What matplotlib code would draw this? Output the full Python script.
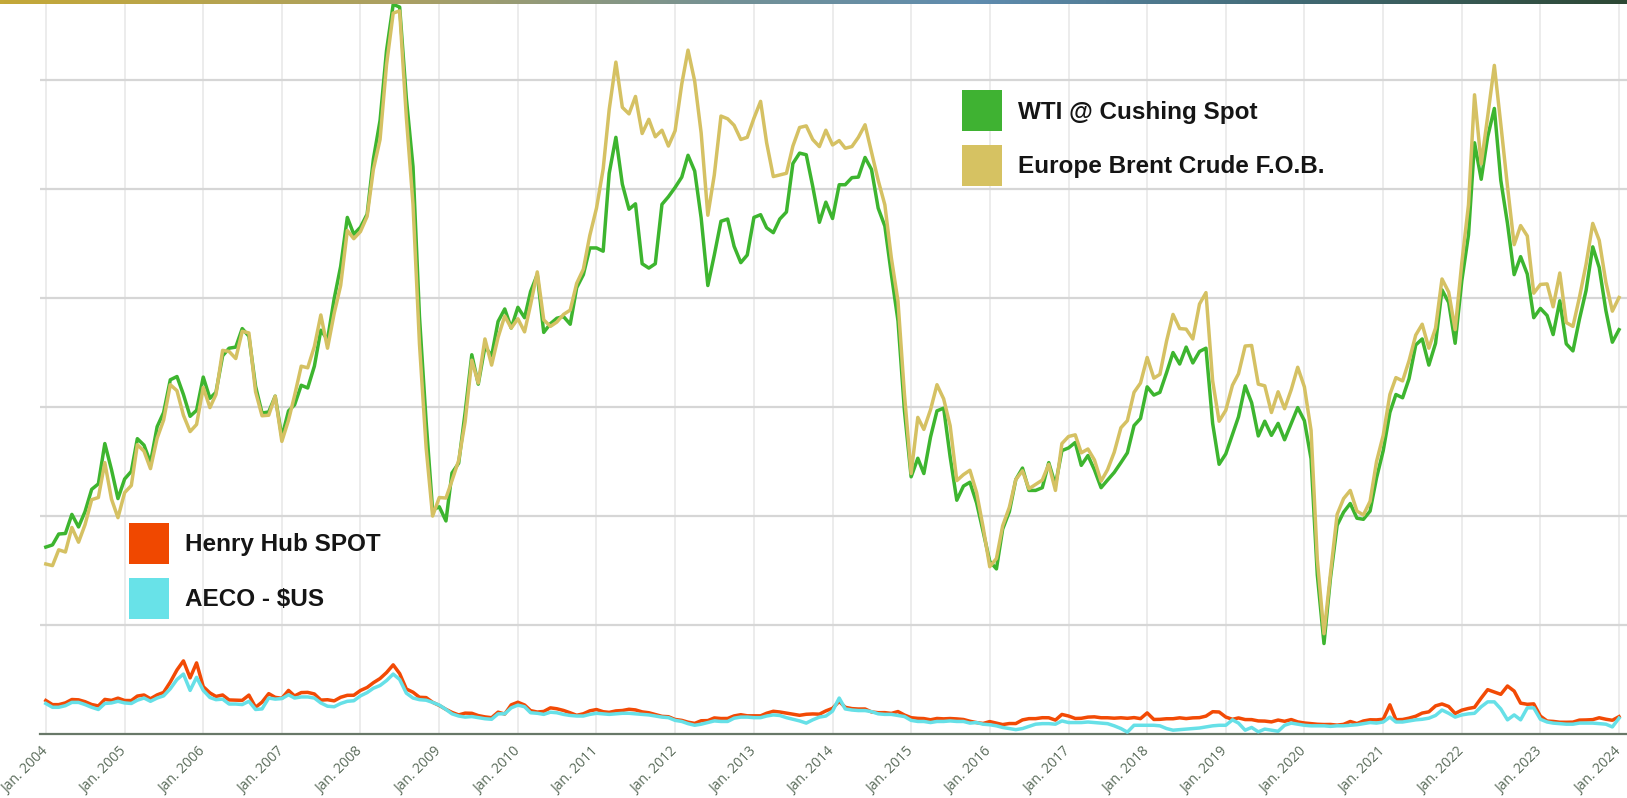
import numpy as np
import pandas as pd
import matplotlib
matplotlib.use("Agg")
import matplotlib.pyplot as plt
from matplotlib.patches import Rectangle

# ---------------- data (monthly, Jan 2004 - Jan 2024, $US) ----------------
start_month = "2004-01-01"

wti = [
    34.3, 34.7, 36.7, 36.8, 40.3, 38.0, 40.8, 44.9, 45.9, 53.3, 48.5, 43.2,
    46.8, 48.2, 54.2, 53.0, 49.8, 56.4, 59.0, 65.0, 65.6, 62.3, 58.3, 59.4,
    65.5, 61.6, 62.7, 69.4, 70.8, 71.0, 74.4, 73.0, 63.8, 58.9, 59.1, 62.0,
    54.5, 59.3, 60.4, 64.0, 63.5, 67.5, 74.1, 72.4, 79.9, 85.8, 94.8, 91.7,
    93.0, 95.4, 105.5, 112.6, 125.4, 133.9, 133.4, 116.7, 104.1, 76.6, 57.3, 41.1,
    41.7, 39.1, 47.9, 49.7, 59.0, 69.6, 64.2, 71.1, 69.4, 75.7, 78.0, 74.5,
    78.3, 76.4, 81.2, 84.3, 73.7, 75.3, 76.3, 76.6, 75.2, 81.9, 84.3, 89.2,
    89.2, 88.6, 102.9, 109.5, 100.9, 96.3, 97.3, 86.3, 85.5, 86.3, 97.2, 98.6,
    100.3, 102.2, 106.2, 103.3, 94.7, 82.3, 87.9, 94.1, 94.5, 89.5, 86.5, 87.9,
    94.8, 95.3, 92.9, 92.0, 94.5, 95.8, 104.7, 106.6, 106.3, 100.5, 93.9, 97.6,
    94.6, 100.8, 100.8, 102.1, 102.2, 105.8, 103.6, 96.5, 93.2, 84.4, 75.8, 59.3,
    47.2, 50.6, 47.8, 54.5, 59.3, 59.8, 50.9, 42.9, 45.5, 46.2, 42.4, 37.2,
    31.7, 30.3, 37.6, 40.8, 46.7, 48.8, 44.7, 44.7, 45.2, 49.8, 45.7, 52.0,
    52.5, 53.5, 49.3, 51.1, 48.5, 45.2, 46.6, 48.0, 49.8, 51.6, 56.6, 57.9,
    63.7, 62.2, 62.7, 66.3, 70.0, 67.9, 71.0, 68.1, 70.2, 70.8, 57.0, 49.5,
    51.4, 55.0, 58.2, 63.9, 60.8, 54.7, 57.4, 54.8, 57.0, 54.0, 57.0, 59.9,
    57.5, 50.5, 29.2, 16.6, 28.6, 38.3, 40.7, 42.3, 39.6, 39.4, 40.9, 47.0,
    52.0, 59.0, 62.3, 61.7, 65.2, 71.4, 72.5, 67.7, 71.7, 81.5, 79.2, 71.7,
    83.2, 91.6, 108.5, 101.8, 109.6, 114.8, 101.6, 93.7, 84.3, 87.6, 84.4, 76.4,
    78.1, 76.8, 73.3, 79.5, 71.6, 70.3, 76.1, 81.4, 89.4, 85.6, 77.7, 71.9,
    74.2,
]

brent = [
    31.2, 30.9, 33.8, 33.4, 37.9, 35.2, 38.4, 43.0, 43.4, 49.8, 43.1, 39.7,
    44.3, 45.6, 53.1, 51.9, 48.7, 54.3, 57.6, 64.1, 63.0, 58.5, 55.5, 56.8,
    63.6, 59.9, 62.3, 70.4, 70.2, 68.9, 73.9, 73.6, 62.8, 58.4, 58.5, 62.0,
    53.7, 57.6, 62.1, 67.5, 67.2, 71.1, 76.9, 70.8, 77.2, 82.3, 92.4, 90.9,
    92.2, 95.0, 103.6, 109.1, 122.8, 132.3, 132.7, 113.2, 97.2, 71.6, 52.5, 40.0,
    43.4, 43.3, 46.5, 50.2, 57.3, 68.6, 64.4, 72.5, 67.7, 72.8, 76.7, 74.5,
    76.2, 73.8, 78.8, 84.8, 76.0, 74.8, 75.6, 77.0, 77.8, 82.7, 85.3, 91.5,
    96.5, 103.7, 114.6, 123.3, 115.0, 113.8, 117.0, 110.2, 112.8, 109.6, 110.8, 107.9,
    110.7, 119.3, 125.5, 119.8, 110.3, 95.2, 102.6, 113.4, 112.9, 111.7, 109.1, 109.5,
    113.0, 116.1, 108.5, 102.3, 102.6, 102.9, 107.9, 111.3, 111.6, 109.1, 107.8, 110.8,
    108.1, 108.9, 107.5, 107.8, 109.5, 111.8, 106.8, 101.6, 97.1, 87.4, 79.4, 62.3,
    47.8, 58.1, 55.9, 59.5, 64.1, 61.5, 56.6, 46.5, 47.6, 48.4, 44.3, 38.0,
    30.7, 32.2, 38.2, 41.6, 46.7, 48.3, 45.0, 45.8, 46.6, 49.5, 44.7, 53.3,
    54.6, 54.9, 51.6, 52.3, 50.3, 46.4, 48.5, 51.7, 56.2, 57.5, 62.7, 64.4,
    69.1, 65.3, 66.0, 72.1, 77.0, 74.4, 74.3, 72.5, 78.9, 81.0, 64.8, 57.4,
    59.4, 64.0, 66.1, 71.2, 71.3, 64.2, 63.9, 59.0, 62.8, 59.7, 63.2, 67.3,
    63.7, 55.7, 32.0, 18.4, 29.4, 40.3, 43.2, 44.7, 40.9, 40.2, 42.7, 50.0,
    54.8, 62.3, 65.4, 64.8, 68.5, 73.2, 75.2, 70.8, 74.5, 83.5, 81.1, 74.2,
    86.5, 97.1, 117.3, 104.6, 113.3, 122.7, 111.9, 100.5, 89.8, 93.3, 91.4, 80.9,
    82.5, 82.6, 78.4, 84.6, 75.5, 74.8, 80.1, 86.2, 93.7, 90.6, 82.9, 77.6,
    80.1,
]

henry_hub = [
    6.15, 5.39, 5.39, 5.71, 6.33, 6.27, 5.93, 5.41, 5.15, 6.35, 6.17, 6.58,
    6.15, 6.14, 6.96, 7.16, 6.47, 7.18, 7.63, 9.53, 11.75, 13.42, 10.30, 13.05,
    8.69, 7.54, 6.89, 7.16, 6.25, 6.21, 6.17, 7.14, 4.90, 5.85, 7.41, 6.73,
    6.55, 8.00, 6.98, 7.60, 7.64, 7.35, 6.22, 6.29, 6.08, 6.74, 7.10, 7.11,
    7.99, 8.54, 9.41, 10.18, 11.27, 12.69, 11.09, 8.26, 7.67, 6.74, 6.68, 5.82,
    5.24, 4.52, 3.96, 3.50, 3.83, 3.80, 3.38, 3.14, 2.99, 4.01, 3.66, 5.35,
    5.83, 5.32, 4.29, 4.03, 4.14, 4.80, 4.63, 4.32, 3.89, 3.43, 3.71, 4.25,
    4.49, 4.09, 3.97, 4.24, 4.31, 4.54, 4.42, 4.06, 3.90, 3.57, 3.24, 3.17,
    2.67, 2.50, 2.17, 1.95, 2.43, 2.46, 2.95, 2.84, 2.85, 3.32, 3.54, 3.34,
    3.33, 3.33, 3.81, 4.17, 4.04, 3.83, 3.62, 3.43, 3.62, 3.68, 3.64, 4.24,
    4.71, 6.00, 4.90, 4.66, 4.58, 4.59, 4.05, 3.91, 3.92, 3.78, 4.12, 3.48,
    2.99, 2.87, 2.83, 2.61, 2.85, 2.78, 2.84, 2.77, 2.66, 2.34, 2.09, 1.93,
    2.28, 1.99, 1.73, 1.92, 1.92, 2.59, 2.82, 2.82, 2.99, 2.98, 2.55, 3.59,
    3.30, 2.85, 2.88, 3.10, 3.15, 2.98, 2.98, 2.90, 2.98, 2.88, 3.01, 2.82,
    3.87, 2.67, 2.69, 2.80, 2.80, 2.97, 2.83, 2.96, 3.00, 3.28, 4.09, 4.04,
    3.11, 2.69, 2.95, 2.65, 2.64, 2.40, 2.37, 2.22, 2.56, 2.33, 2.65, 2.22,
    2.02, 1.91, 1.79, 1.74, 1.75, 1.63, 1.77, 2.30, 1.92, 2.39, 2.61, 2.59,
    2.71, 5.35, 2.62, 2.66, 2.91, 3.26, 3.84, 4.07, 5.16, 5.51, 5.05, 3.76,
    4.38, 4.69, 4.90, 6.60, 8.14, 7.70, 7.28, 8.81, 7.88, 5.66, 5.45, 5.53,
    3.27, 2.38, 2.31, 2.16, 2.15, 2.18, 2.55, 2.58, 2.64, 2.98, 2.71, 2.52,
    3.18,
]

aeco_us = [
    5.6, 4.9, 4.9, 5.2, 5.8, 5.8, 5.4, 4.9, 4.5, 5.6, 5.7, 6.0,
    5.7, 5.6, 6.2, 6.6, 6.0, 6.6, 7.0, 8.3, 10.0, 11.0, 8.0, 10.4,
    8.0, 6.7, 6.3, 6.4, 5.5, 5.5, 5.4, 6.0, 4.5, 4.6, 6.6, 6.4,
    6.5, 7.2, 6.6, 6.8, 6.8, 6.6, 5.7, 5.1, 5.0, 5.6, 6.0, 6.1,
    7.0, 7.6, 8.4, 8.9, 9.8, 11.0, 10.0, 7.5, 6.6, 6.3, 6.2, 5.8,
    5.3, 4.5, 3.7, 3.3, 3.1, 3.2, 3.0, 2.8, 2.7, 3.7, 3.7, 4.8,
    5.3, 5.0, 3.9, 3.8, 3.6, 4.0, 3.9, 3.6, 3.4, 3.3, 3.3, 3.6,
    3.8, 3.7, 3.6, 3.7, 3.8, 3.8, 3.7, 3.6, 3.5, 3.3, 3.1, 3.0,
    2.5, 2.3, 1.9, 1.6, 1.8, 2.1, 2.4, 2.3, 2.3, 2.9, 3.1, 3.1,
    3.0, 3.0, 3.3, 3.5, 3.4, 3.0, 2.7, 2.4, 2.0, 2.6, 3.1, 3.3,
    4.2, 6.6, 4.6, 4.4, 4.3, 4.3, 4.1, 3.7, 3.6, 3.6, 3.4, 3.2,
    2.5, 2.3, 2.3, 2.1, 2.3, 2.3, 2.4, 2.3, 2.3, 2.0, 2.1, 1.8,
    1.7, 1.5, 1.2, 1.0, 0.8, 1.0, 1.4, 1.8, 1.9, 1.9, 1.8, 2.4,
    2.1, 2.1, 2.1, 2.2, 2.1, 2.0, 1.9, 1.5, 1.0, 0.35, 1.6, 1.6,
    1.6, 1.6, 1.5, 1.0, 0.7, 0.8, 0.9, 1.0, 1.1, 1.3, 1.5, 1.6,
    1.6, 2.6, 2.0, 0.7, 1.2, 0.4, 0.9, 0.7, 0.5, 1.6, 2.0, 1.8,
    1.6, 1.5, 1.5, 1.5, 1.4, 1.5, 1.5, 1.6, 1.7, 1.9, 2.1, 2.0,
    2.2, 3.1, 2.2, 2.2, 2.4, 2.6, 2.7, 2.9, 3.4, 4.4, 3.8, 3.1,
    3.5, 3.7, 3.8, 5.0, 5.9, 5.9, 4.6, 2.6, 3.5, 2.6, 4.8, 4.8,
    2.7, 2.2, 2.0, 1.9, 1.8, 1.8, 2.0, 2.0, 2.0, 1.9, 1.8, 1.3,
    2.9,
]

tick_years = list(range(2004, 2025))
tick_labels = [f"Jan. {y}" for y in tick_years]
y_grid = [20, 40, 60, 80, 100, 120]

oil_legend = ["WTI @ Cushing Spot", "Europe Brent Crude F.O.B."]
gas_legend = ["Henry Hub SPOT", "AECO - $US"]

# ---------------- styling ----------------
C_WTI = "#3db52f"
C_BRENT = "#d5c163"
C_HH = "#f24a05"
C_AECO = "#66e0e7"

W, H = 1627, 798
fig = plt.figure(figsize=(W / 100, H / 100), dpi=100)
fig.patch.set_facecolor("white")

ax_left, ax_bottom = 40, 798 - 734
ax = fig.add_axes([ax_left / W, ax_bottom / H, (W - ax_left) / W, (H - ax_bottom) / H])
ax.set_facecolor("white")

dates = pd.date_range(start_month, periods=len(wti), freq="MS")

ax.plot(dates, wti, color=C_WTI, lw=2.5, zorder=3)
ax.plot(dates, brent, color=C_BRENT, lw=2.5, zorder=4)
ax.plot(dates, henry_hub, color=C_HH, lw=2.5, zorder=3)
ax.plot(dates, aeco_us, color=C_AECO, lw=2.5, zorder=4)

ax.set_xlim(pd.Timestamp("2004-01-01") - pd.Timedelta(days=27),
            pd.Timestamp("2024-01-01") + pd.Timedelta(days=37))
ax.set_ylim(0, 134.7)

tick_dates = [pd.Timestamp(f"{y}-01-01") for y in tick_years]
ax.set_xticks(tick_dates)
ax.set_xticklabels(tick_labels, rotation=45, ha="right", va="center",
                   rotation_mode="anchor", fontsize=10, color="#5a6b5a",
                   family=["Open Sans", "DejaVu Sans"])
ax.tick_params(axis="x", length=0, pad=11)
ax.set_yticks(y_grid)
ax.tick_params(axis="y", length=0, labelleft=False)

ax.grid(axis="y", color="#d6d6d6", lw=1.6, zorder=0)
ax.grid(axis="x", color="#ececec", lw=1.4, zorder=0)
ax.set_axisbelow(True)
for s in ["top", "right", "left"]:
    ax.spines[s].set_visible(False)
ax.spines["bottom"].set_color("#687868")
ax.spines["bottom"].set_linewidth(1.6)

# ---------------- legends ----------------
def legend_entry(x_sq, y_top, label, color):
    sq_w, sq_h = 40, 41
    fig.patches.append(Rectangle((x_sq / W, 1 - (y_top + sq_h) / H), sq_w / W, sq_h / H,
                                 transform=fig.transFigure, facecolor=color,
                                 edgecolor="none", zorder=5))
    fig.text((x_sq + 56) / W, 1 - (y_top + sq_h / 2 + 8) / H, label,
             fontsize=17.5, fontweight="bold", color="#151515",
             family=["Liberation Sans", "DejaVu Sans"], va="baseline", ha="left",
             zorder=6)

legend_entry(962, 90, oil_legend[0], "#3fb232")
legend_entry(962, 145, oil_legend[1], "#d6c262")
legend_entry(129, 523, gas_legend[0], "#f04800")
legend_entry(129, 578, gas_legend[1], "#68e2e8")

# ---------------- top gradient bar ----------------
bar = fig.add_axes([0, 1 - 4 / H, 1, 4 / H], zorder=10)
stops = np.array([
    [0.00, 196, 168, 56],
    [0.25, 170, 160, 100],
    [0.45, 115, 145, 150],
    [0.60, 95, 140, 175],
    [0.80, 65, 105, 115],
    [1.00, 45, 72, 52],
])
xs = np.linspace(0, 1, 400)
rgb = np.stack([np.interp(xs, stops[:, 0], stops[:, i]) for i in (1, 2, 3)], axis=-1) / 255
bar.imshow(rgb[np.newaxis, :, :], aspect="auto", extent=[0, 1, 0, 1])
bar.set_axis_off()

fig.savefig("out.png", dpi=100, facecolor="white")
